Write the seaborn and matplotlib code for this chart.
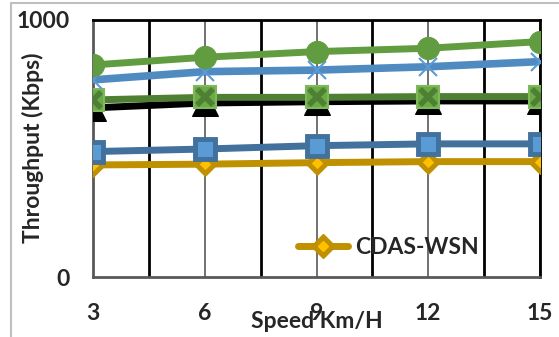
import matplotlib
matplotlib.use("Agg")
import matplotlib.pyplot as plt
from matplotlib.lines import Line2D
from matplotlib.legend_handler import HandlerTuple
import seaborn as sns
import pandas as pd

# Mobile node speed (km/h) and measured throughput (Kbps) per scheme
speeds = [3, 6, 9, 12, 15]
scheme_circle = [825, 855, 877, 890, 916]
scheme_cross = [767, 799, 805, 818, 838]
scheme_boxcross = [689, 699, 699, 702, 702]
scheme_triangle = [658, 677, 682, 685, 685]
scheme_square = [488, 498, 511, 518, 518]
cdas_wsn = [436, 439, 445, 449, 449]

y_ticks = [0, 1000]
x_label = "Speed Km/H"
y_label = "Throughput (Kbps)"
legend_label = "CDAS-WSN"

sns.set_theme(style="white")
plt.rcParams["font.family"] = ["Lato", "DejaVu Sans"]
plt.rcParams["font.weight"] = "bold"

FS = 16.5

fig = plt.figure(figsize=(5.59, 3.37), dpi=100)
ax = fig.add_axes([0.1664, 0.178, 0.7996, 0.7627])

def draw(values, **kw):
    df = pd.DataFrame({"speed": speeds, "kbps": values})
    sns.lineplot(data=df, x="speed", y="kbps", ax=ax, legend=False, **kw)

draw(scheme_triangle, color="black", linewidth=5, marker="^", markersize=19,
     markerfacecolor="black", markeredgecolor="black", zorder=3)
draw(scheme_boxcross, color="#4F7F33", linewidth=5, marker="s", markersize=16,
     markerfacecolor="#6CAA46", markeredgecolor="#7DB85A", markeredgewidth=1.5, zorder=4)
draw(scheme_boxcross, color="#4F7F33", linewidth=0, marker="x", markersize=11,
     markeredgecolor="#4E8033", markeredgewidth=4, zorder=4.1)
draw(cdas_wsn, color="#BF9000", linewidth=5, marker="D", markersize=12,
     markerfacecolor="#BF9000", markeredgecolor="#BF9000", zorder=5)
draw(cdas_wsn, color="#BF9000", linewidth=0, marker="D", markersize=5,
     markerfacecolor="#FFC000", markeredgecolor="#FFC000", zorder=5.1)
draw(scheme_square, color="#41719C", linewidth=5, marker="s", markersize=14,
     markerfacecolor="#5B9BD5", markeredgecolor="#41719C", markeredgewidth=3.5, zorder=6)
draw(scheme_cross, color="#4F8BC1", linewidth=5.5, marker="x", markersize=13,
     markeredgecolor="#5B9BD5", markeredgewidth=1.5, zorder=7)
draw(scheme_circle, color="#629C40", linewidth=5, marker="o", markersize=16,
     markerfacecolor="#629C40", markeredgecolor="#629C40", zorder=8)

ax.set_xlim(speeds[0], speeds[-1])
ax.set_ylim(y_ticks[0], y_ticks[-1])
ax.set_xticks(speeds)
ax.set_xticks([(a + b) / 2 for a, b in zip(speeds[:-1], speeds[1:])], minor=True)
ax.set_yticks(y_ticks)
ax.set_axisbelow(True)
ax.grid(False)
ax.xaxis.grid(True, which="major", color="#595959", linewidth=1.2)
ax.xaxis.grid(True, which="minor", color="black", linewidth=2)
ax.tick_params(axis="both", which="both", length=0, labelsize=FS)
ax.tick_params(axis="x", pad=19)
ax.tick_params(axis="y", pad=17)
for lbl in ax.get_xticklabels() + ax.get_yticklabels():
    lbl.set_fontweight("bold")

for side in ("top", "right"):
    ax.spines[side].set_color("black")
    ax.spines[side].set_linewidth(2)
for side in ("left", "bottom"):
    ax.spines[side].set_color("#595959")
    ax.spines[side].set_linewidth(2)

ax.set_xlabel(x_label, fontsize=FS, fontweight="bold", va="center")
ax.xaxis.set_label_coords(0.5, -0.175)
ax.set_ylabel(y_label, fontsize=FS, fontweight="bold", va="center")
ax.yaxis.set_label_coords(-0.134, 0.502)

handle = (
    Line2D([], [], color="#BF9000", linewidth=5, marker="D", markersize=12,
           markerfacecolor="#BF9000", markeredgecolor="#BF9000"),
    Line2D([], [], linewidth=0, marker="D", markersize=5,
           markerfacecolor="#FFC000", markeredgecolor="#FFC000"),
)
ax.legend([handle], [legend_label], handler_map={tuple: HandlerTuple(ndivide=1)},
          loc="center", bbox_to_anchor=(0.66, 0.113), frameon=False,
          handlelength=2.2, handletextpad=0.3,
          prop={"size": FS, "weight": "bold"})

# Thin grey outline around the chart area
fig.add_artist(Line2D([11 / 559, 11 / 559], [0, 1 - 3 / 337], color="#BFBFBF", linewidth=1.5))
fig.add_artist(Line2D([11 / 559, 1], [1 - 3 / 337, 1 - 3 / 337], color="#BFBFBF", linewidth=1.5))

fig.savefig("out.png", dpi=100)
